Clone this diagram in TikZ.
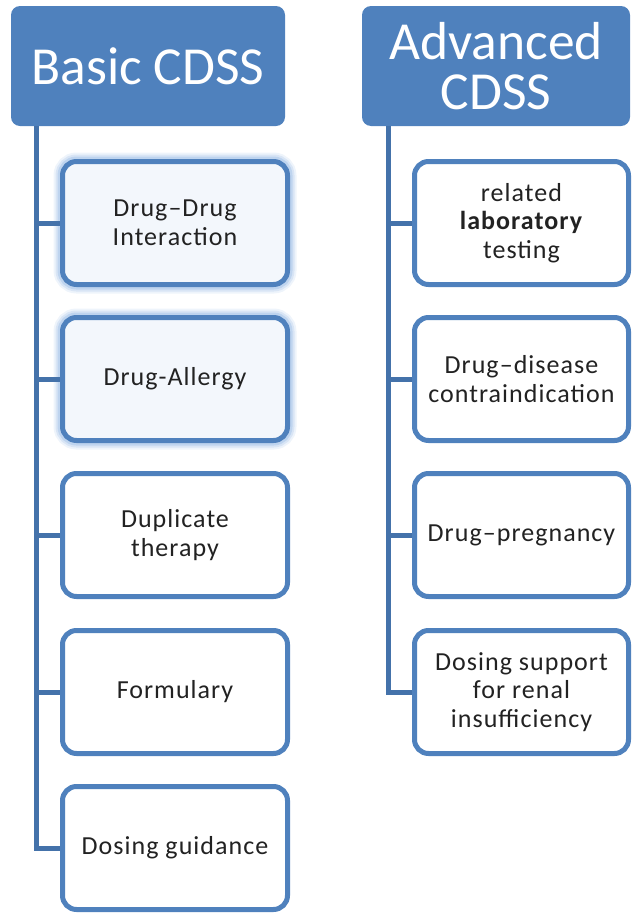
\documentclass[tikz,border=0pt]{standalone}
\usepackage{fontspec}
\setmainfont{Carlito}
\newfontfamily\boxfont[LetterSpace=4]{Carlito}
\definecolor{hdrblue}{HTML}{4F81BD}
\definecolor{edgeblue}{HTML}{4F81BD}
\definecolor{treeblue}{HTML}{4472AA}
\definecolor{glowblue}{HTML}{8DB3E2}
\definecolor{paleblue}{HTML}{F3F7FC}
\definecolor{txt}{HTML}{222222}
\tikzset{
  header/.style={fill=hdrblue, rounded corners=9pt, text=white, align=center,
    font=\fontsize{53.5}{50}\selectfont, inner sep=0pt},
  leafbox/.style={draw=edgeblue, line width=5pt, fill=white, rounded corners=14pt,
    text=txt, align=center, font=\boxfont\fontsize{26}{28.5}\selectfont, inner sep=0pt},
  glowing/.style={fill=paleblue,
    preaction={draw=glowblue, line width=18pt, opacity=0.15},
    preaction={draw=glowblue, line width=14pt, opacity=0.22},
    preaction={draw=glowblue, line width=10pt, opacity=0.35}},
  branch/.style={draw=treeblue, line width=5pt}
}
\begin{document}
\begin{tikzpicture}[x=1pt, y=-1pt]
  \useasboundingbox (0,0) rectangle (632,913);

  % column headers
  \node[header, minimum width=274pt, minimum height=120pt] (basic) at (148,66) {Basic CDSS};
  \node[header, minimum width=268pt, minimum height=120pt] (adv) at (496,66) {Advanced\\CDSS};

  % basic checks
  \node[leafbox, glowing, minimum width=225pt, minimum height=123pt] (b1) at (175,223) {Drug–Drug\\Interaction};
  \node[leafbox, glowing, minimum width=225pt, minimum height=123pt] (b2) at (175,379) {Drug-Allergy};
  \node[leafbox, minimum width=225pt, minimum height=123pt] (b3) at (175,535) {Duplicate\\therapy};
  \node[leafbox, minimum width=225pt, minimum height=123pt] (b4) at (175,692) {Formulary};
  \node[leafbox, minimum width=225pt, minimum height=123pt] (b5) at (175,848) {Dosing guidance};

  % advanced checks
  \node[leafbox, minimum width=214pt, minimum height=123pt] (a1) at (521.5,223) {related\\\textbf{laboratory}\\testing};
  \node[leafbox, minimum width=214pt, minimum height=123pt] (a2) at (521.5,379) {Drug–disease\\contraindication};
  \node[leafbox, minimum width=214pt, minimum height=123pt] (a3) at (521.5,535) {Drug–pregnancy};
  \node[leafbox, minimum width=214pt, minimum height=123pt] (a4) at (521.5,692) {Dosing support\\for renal\\insufficiency};

  % tree connectors
  \coordinate (broot) at (36,126);
  \coordinate (aroot) at (388,126);
  \foreach \k in {1,...,5} {\draw[branch] (broot) |- (b\k.west);}
  \foreach \k in {1,...,4} {\draw[branch] (aroot) |- (a\k.west);}
\end{tikzpicture}
\end{document}
